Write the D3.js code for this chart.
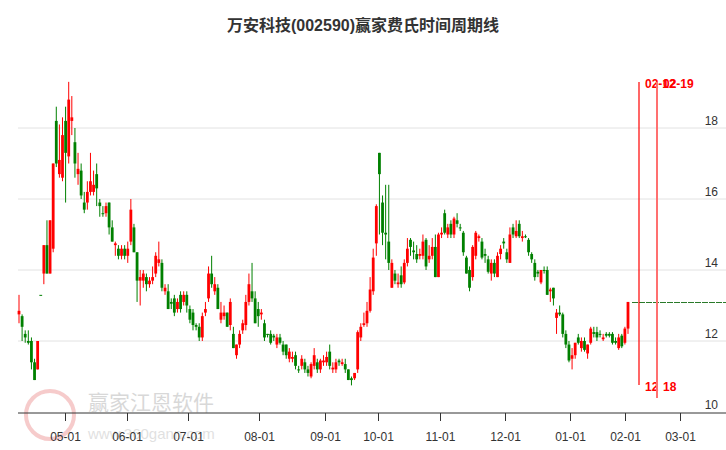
<!DOCTYPE html>
<html><head><meta charset="utf-8">
<script src="https://cdn.jsdelivr.net/npm/d3@7"></script>
<style>body{margin:0;background:#fff}text{font-family:Arial,"Liberation Sans","Noto Sans CJK SC",sans-serif}</style>
</head><body><svg id="c" width="726" height="450"></svg>
<script>
// candles: open, close, high, low
const candles = [
[12.75,12.85,13.3,12.5],[12.7,12.4,12.75,12.0],[12.2,12.1,12.3,11.95],[12.0,11.95,12.3,11.9],[12.0,11.4,12.1,11.2],
[11.4,10.9,11.5,10.9],[11.2,12.0,12.0,11.2],[13.3,13.3,13.3,13.3],[13.9,14.7,14.7,13.6],[14.7,13.9,15.4,13.9],
[13.9,15.4,15.4,13.9],[14.6,17.0,17.0,14.5],[18.2,17.0,18.6,16.9],[16.7,17.1,18.1,16.6],[16.6,17.8,18.3,16.5],
[18.2,17.3,18.6,15.9],[17.2,18.8,19.3,17.0],[18.2,18.3,18.9,17.8],[17.6,17.0,18.0,16.6],[16.7,16.85,17.3,16.4],
[16.8,16.1,17.0,16.0],[15.9,15.7,16.2,15.6],[15.9,16.2,16.5,15.7],[16.2,16.5,17.3,16.1],[16.2,16.4,16.8,16.1],
[16.7,16.3,17.0,15.8],[15.9,15.8,16.0,15.5],[15.6,15.6,15.8,15.5],[15.6,15.8,15.9,15.5],[15.9,15.2,15.9,15.0],
[15.2,14.8,15.4,14.8],[14.7,14.75,14.8,14.4],[14.6,14.4,14.7,14.3],[14.4,14.6,14.7,14.3],[14.6,14.4,14.7,14.3],
[14.4,14.6,14.8,14.2],[14.8,15.7,16.0,14.7],[15.2,14.5,15.3,14.5],[14.5,13.7,14.5,13.1],[13.7,13.8,14.0,13.0],
[13.7,13.9,14.0,13.5],[13.8,13.6,13.9,13.4],[13.6,13.7,13.8,13.5],[13.7,13.8,14.1,13.6],[13.9,14.4,14.5,13.8],
[14.2,14.3,14.8,14.1],[14.2,13.5,14.3,13.4],[13.4,13.5,13.6,13.3],[13.4,12.9,13.6,12.9],[13.1,13.05,13.2,12.9],
[13.2,12.8,13.3,12.7],[12.9,13.1,13.2,12.8],[13.3,12.9,13.4,12.8],[13.1,13.3,13.4,13.0],[13.3,13.0,13.4,12.8],
[12.9,12.6,13.0,12.5],[12.8,12.45,12.9,12.3],[12.45,12.4,12.5,12.3],[12.4,12.1,12.5,12.0],[12.1,12.7,12.8,12.0],
[12.8,12.9,13.1,12.7],[13.2,13.9,14.1,13.1],[13.9,13.6,14.4,13.5],[13.4,13.6,13.8,13.3],[13.5,12.9,13.6,12.9],
[12.6,12.8,13.1,12.5],[12.7,12.8,13.0,12.6],[12.8,12.4,12.8,12.4],[12.45,13.1,13.2,12.3],[12.2,11.8,12.4,11.8],
[11.6,11.9,11.9,11.5],[11.9,12.2,12.3,11.8],[12.3,12.5,12.6,12.2],[12.45,13.1,13.3,12.3],[13.1,13.6,13.9,13.0],
[13.4,13.2,14.2,13.1],[13.2,12.5,13.4,12.5],[12.9,12.7,13.1,12.4],[12.75,12.8,12.9,12.6],[12.5,12.1,12.6,12.0],
[12.2,12.2,12.2,12.1],[12.2,11.95,12.3,11.9],[12.15,12.1,12.2,12.0],[11.9,12.1,12.2,11.8],[12.1,11.95,12.2,11.9],
[11.9,11.7,12.0,11.6],[11.9,11.6,11.9,11.5],[11.5,11.7,11.8,11.4],[11.5,11.55,11.7,11.4],[11.6,11.3,11.7,11.2],
[11.2,11.2,11.3,11.1],[11.3,11.5,11.6,11.2],[11.4,11.2,11.5,11.1],[11.2,11.1,11.3,11.0],[11.0,11.35,11.4,10.95],
[11.3,11.6,11.8,11.2],[11.4,11.2,11.5,11.1],[11.2,11.45,11.5,11.1],[11.4,11.45,11.6,11.3],[11.4,11.55,11.7,11.3],
[11.7,11.3,11.9,11.2],[11.2,11.25,11.4,11.1],[11.2,11.4,11.5,11.1],[11.45,11.4,11.5,11.3],[11.35,11.4,11.5,11.3],
[11.35,11.2,11.5,11.1],[11.2,10.9,11.2,10.9],[10.95,10.9,11.0,10.75],[10.95,11.1,11.1,10.9],[11.2,12.25,12.3,11.1],
[12.1,12.4,12.5,12.0],[12.45,12.5,12.8,12.4],[12.5,12.85,13.1,12.4],[12.85,13.45,13.8,12.8],[13.4,14.35,14.6,13.3],
[14.75,15.8,15.85,14.4],[17.3,16.7,17.3,15.0],[15.9,15.05,16.1,14.7],[15.05,15.0,16.4,14.3],[14.8,14.2,16.4,14.0],
[13.5,14.2,14.3,13.5],[13.9,13.7,14.0,13.6],[13.6,13.65,13.9,13.5],[13.85,13.6,14.1,13.5],[13.65,14.2,14.3,13.6],
[14.2,14.6,14.9,14.1],[14.85,14.65,14.9,14.4],[14.55,14.5,14.8,14.3],[14.45,14.3,14.7,14.2],[14.4,14.45,14.6,14.3],
[14.4,14.8,15.0,14.3],[14.85,14.1,14.9,14.0],[14.3,14.4,14.7,14.2],[14.4,14.65,14.9,14.3],[14.65,13.8,15.0,13.8],
[13.8,15.0,15.05,13.8],[15.0,15.05,15.2,14.9],[15.6,15.05,15.7,15.0],[15.0,15.2,15.3,14.9],[15.3,15.0,15.4,14.9],
[15.0,15.45,15.5,14.9],[15.4,15.3,15.6,15.2],[15.2,15.2,15.3,15.1],[15.05,14.5,15.1,14.4],[14.35,13.9,14.4,13.9],
[14.0,13.5,14.1,13.4],[13.8,14.65,14.7,13.7],[14.4,15.05,15.1,14.3],[14.9,14.95,15.0,14.8],[14.8,14.35,14.9,14.3],
[14.45,14.4,14.6,14.2],[14.3,13.95,14.4,13.9],[13.9,14.2,14.3,13.7],[14.2,13.9,14.3,13.8],[13.8,14.4,14.5,13.8],
[14.45,14.6,14.7,14.3],[14.8,14.75,14.9,14.6],[14.5,14.3,14.6,14.2],[14.2,15.0,15.2,14.2],[15.2,15.0,15.3,14.9],
[14.95,15.1,15.4,14.9],[15.3,14.95,15.4,14.9],[14.9,14.95,15.1,14.8],[14.95,14.95,15.0,14.9],[14.85,14.5,14.9,14.4],
[14.45,14.3,14.5,14.2],[14.2,13.8,14.3,13.7],[13.95,13.9,14.0,13.8],[13.65,14.0,14.0,13.6],[14.0,14.0,14.1,13.9],
[14.0,13.3,14.1,13.3],[13.4,13.45,13.5,13.1],[13.5,13.2,13.5,13.0],[12.65,12.8,12.9,12.2],[12.8,12.75,13.0,12.7],
[12.75,12.2,12.8,12.1],[12.2,11.9,12.3,11.8],[11.9,11.45,12.0,11.4],[11.5,11.6,11.8,11.2],[11.6,11.95,11.95,11.5],
[12.1,11.95,12.2,11.9],[11.8,12.0,12.1,11.7],[12.0,11.75,12.1,11.7],[11.65,11.9,11.9,11.5],[11.95,12.35,12.4,11.9],
[12.25,12.2,12.4,12.1],[12.25,12.1,12.4,12.0],[12.2,12.2,12.3,12.1],[12.05,12.1,12.2,12.0],[12.2,12.15,12.25,12.1],
[12.2,12.15,12.25,12.1],[12.2,11.95,12.25,11.9],[12.0,11.95,12.1,11.9],[11.8,12.1,12.2,11.75],[12.15,11.85,12.2,11.8],
[11.95,12.35,12.4,11.9],[12.35,13.1,13.1,12.2]
]
const monthLabels = ['05-01','06-01','07-01','08-01','09-01','10-01','11-01','12-01','01-01','02-01','03-01']
const monthIdx = [14.8,34.8,54.4,77.2,98.5,115.5,135.5,156.4,177.3,195,212.7]
const priceTicks = [10,12,14,16,18]
const cycleIdx = [199.5,205.3]
const cycleTop = ['02-12','02-19']
const cycleBottom = ['12','18']
const lastClose = 13.1

const svg = d3.select('#c')
const x = d3.scaleLinear().domain([0, candles.length - 1]).range([19, 628])
const y = d3.scaleLinear().domain([10, 18]).range([412, 128])

svg.append('text').attr('x', 363).attr('y', 31).attr('text-anchor', 'middle')
    .attr('font-size', 16).attr('font-weight', 'bold').attr('fill', '#333')
    .text('万安科技(002590)赢家费氏时间周期线')

// watermark
const wm = svg.append('g').attr('opacity', 0.25)
wm.append('circle').attr('cx', 50).attr('cy', 415).attr('r', 24).attr('fill', 'none').attr('stroke', '#d33').attr('stroke-width', 4)
wm.append('text').attr('x', 88).attr('y', 410).attr('font-size', 21).attr('fill', '#666').text('赢家江恩软件')
wm.append('text').attr('x', 88).attr('y', 439).attr('font-size', 15).attr('fill', '#888').text('www.360gann.com')

svg.append('g').selectAll('line').data(priceTicks.slice(1)).join('line')
    .attr('x1', 18).attr('x2', 726).attr('y1', d => y(d)).attr('y2', d => y(d))
    .attr('stroke', '#e2e2e2')

svg.append('g').selectAll('text').data(priceTicks).join('text')
    .attr('x', 718).attr('y', d => y(d) - 3).attr('text-anchor', 'end')
    .attr('font-size', 12).attr('fill', '#333').text(d => d)

// bottom axis
svg.append('line').attr('x1', 18).attr('x2', 726).attr('y1', 413).attr('y2', 413).attr('stroke', '#333')
const ticks = svg.append('g').selectAll('g').data(monthIdx).join('g')
    .attr('transform', d => `translate(${Math.round(x(d)) + 0.5},413)`)
ticks.append('line').attr('y2', 8).attr('stroke', '#333')
ticks.append('text').attr('y', 28).attr('text-anchor', 'middle').attr('font-size', 12)
    .attr('fill', '#333').text((d, i) => monthLabels[i])

// last price dashed line
svg.append('line').attr('x1', x(candles.length - 1) + 4).attr('x2', 726)
    .attr('y1', Math.round(y(lastClose)) + 0.5).attr('y2', Math.round(y(lastClose)) + 0.5)
    .attr('stroke', '#2a7a2a').attr('stroke-dasharray', '6,1')

// candles
const g = svg.append('g').selectAll('g').data(candles).join('g')
    .attr('transform', (d, i) => `translate(${x(i)},0)`)
const col = d => d[1] > d[0] ? '#ff0000' : '#008000'
g.append('line').attr('y1', d => y(d[2])).attr('y2', d => y(d[3])).attr('stroke', col).attr('stroke-width', 1)
g.append('rect').attr('x', -1.4).attr('width', 2.8)
    .attr('y', d => y(Math.max(d[0], d[1])))
    .attr('height', d => Math.max(1, Math.abs(y(d[0]) - y(d[1]))))
    .attr('fill', col)

// cycle lines
const cyc = svg.append('g').selectAll('g').data(cycleIdx).join('g')
    .attr('transform', d => `translate(${Math.round(x(d))},0)`)
cyc.append('line').attr('y1', 82).attr('y2', (d, i) => i ? 398 : 385)
    .attr('stroke', (d, i) => i ? '#ff7070' : '#ff0000').attr('stroke-width', (d, i) => i ? 2 : 1.2)
cyc.append('text').attr('x', 6).attr('y', 88).attr('font-size', 12).attr('font-weight', 'bold')
    .attr('fill', '#ff0000').text((d, i) => cycleTop[i])
cyc.append('text').attr('x', 6).attr('y', 391).attr('font-size', 12).attr('font-weight', 'bold')
    .attr('fill', '#ff0000').text((d, i) => cycleBottom[i])
</script></body></html>
